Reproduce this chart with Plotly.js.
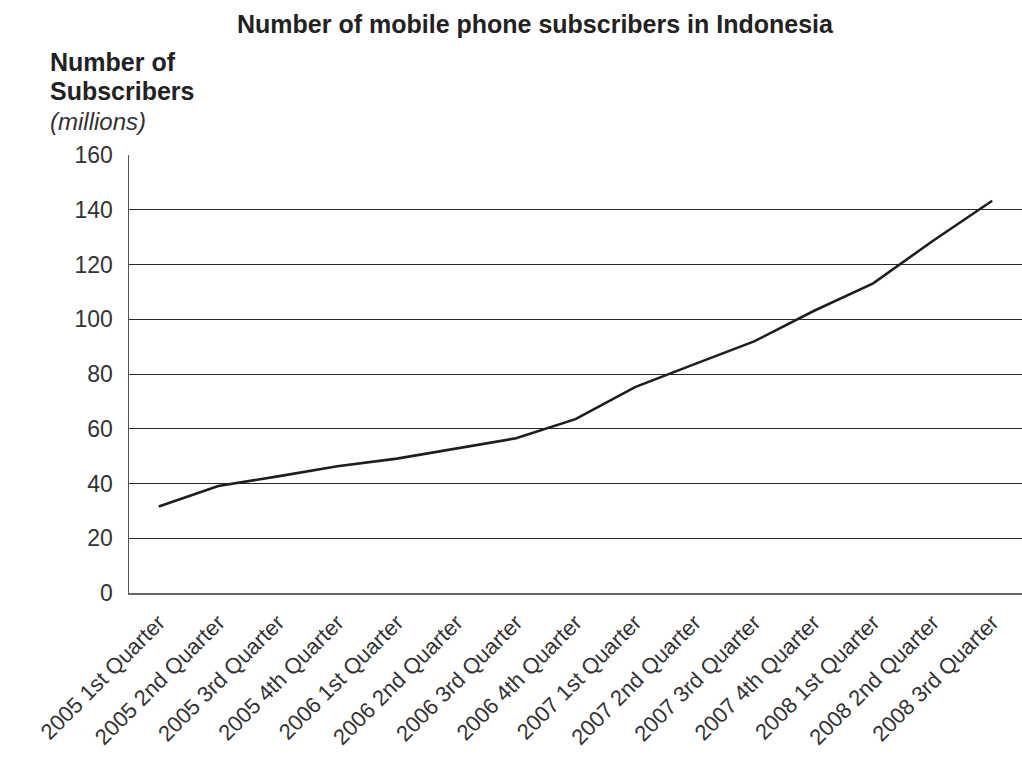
<!DOCTYPE html>
<html>
<head>
<meta charset="utf-8">
<script src="https://cdn.plot.ly/plotly-3.0.1.min.js"></script>
<style>html,body{margin:0;padding:0;background:#fff;}#chart{width:1022px;height:759px;}</style>
</head>
<body>
<div id="chart"></div>
<script>
const quarters = ["2005 1st Quarter","2005 2nd Quarter","2005 3rd Quarter","2005 4th Quarter",
  "2006 1st Quarter","2006 2nd Quarter","2006 3rd Quarter","2006 4th Quarter",
  "2007 1st Quarter","2007 2nd Quarter","2007 3rd Quarter","2007 4th Quarter",
  "2008 1st Quarter","2008 2nd Quarter","2008 3rd Quarter"];
const subscribers = [31.6, 39.1, 42.6, 46.3, 49.1, 52.7, 56.5, 63.5, 75.2, 83.6, 91.9, 103.0, 113.1, 128.6, 143.3];
const yTicks = [0, 20, 40, 60, 80, 100, 120, 140, 160];

const font = "Liberation Sans, Arial, sans-serif";
const W = 1022, H = 759;
const L = 129, R = 0, T = 155, B = 166;
const pw = W - L - R, ph = H - T - B;
function px2x(p){ return (p - L) / pw; }
function px2y(p){ return (H - B - p) / ph; }

const trace = {
  x: quarters, y: subscribers, type: "scatter", mode: "lines",
  line: {color: "#1e1e1e", width: 2.6}, hoverinfo: "skip"
};

const layout = {
  width: W, height: H,
  margin: {l: L, r: R, t: T, b: B, pad: 0},
  paper_bgcolor: "#fff", plot_bgcolor: "#fff",
  showlegend: false,
  title: {text: "<b>Number of mobile phone subscribers in Indonesia</b>",
    font: {family: font, size: 25, color: "#222"},
    xref: "container", x: 535/W, xanchor: "center",
    yref: "container", y: 1 - 24/H, yanchor: "middle"},
  xaxis: {
    type: "category", range: [-0.5, 14.5],
    showgrid: false, zeroline: false,
    showline: true, linecolor: "#666", linewidth: 2,
    ticks: "", tickangle: -45,
    tickfont: {family: font, size: 22, color: "#333"},
    ticklabelstandoff: 6, fixedrange: true
  },
  yaxis: {
    range: [0, 160], tickvals: yTicks, ticktext: yTicks.map(String),
    showgrid: true, gridcolor: "#2a2a2a", gridwidth: 1,
    zeroline: false, showline: true, linecolor: "#555", linewidth: 1.5,
    ticks: "", tickfont: {family: font, size: 23, color: "#333"},
    ticklabelstandoff: 10, fixedrange: true
  },
  annotations: [
    {text: "<b>Number of</b>", xref: "paper", yref: "paper", x: px2x(48), y: px2y(62),
     xanchor: "left", yanchor: "middle", showarrow: false, font: {family: font, size: 25, color: "#222"}},
    {text: "<b>Subscribers</b>", xref: "paper", yref: "paper", x: px2x(48), y: px2y(91),
     xanchor: "left", yanchor: "middle", showarrow: false, font: {family: font, size: 25, color: "#222"}},
    {text: "<i>(millions)</i>", xref: "paper", yref: "paper", x: px2x(48), y: px2y(121),
     xanchor: "left", yanchor: "middle", showarrow: false, font: {family: font, size: 24, color: "#333"}}
  ]
};

Plotly.newPlot("chart", [trace], layout, {displayModeBar: false, staticPlot: true});
</script>
</body>
</html>
